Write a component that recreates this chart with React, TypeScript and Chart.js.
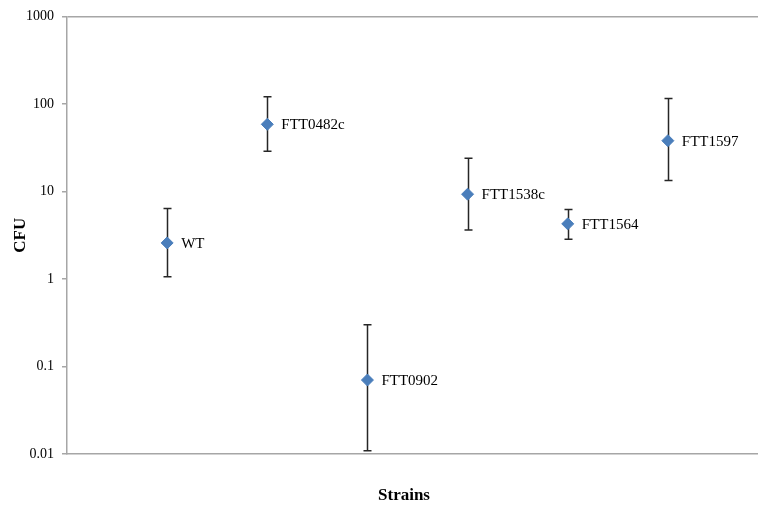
import React, { useEffect, useRef } from "react";
import { Chart, registerables } from "chart.js";

Chart.register(...registerables);

const strains = ["WT", "FTT0482c", "FTT0902", "FTT1538c", "FTT1564", "FTT1597"];
const positions = [1, 2, 3, 4, 5, 6];
const cfu = [2.58, 58.5, 0.07, 9.3, 4.26, 38];
const errHigh = [6.4, 121, 0.3, 23.9, 6.2, 115];
const errLow = [1.06, 28.8, 0.0109, 3.63, 2.85, 13.3];
const yTicks = [0.01, 0.1, 1, 10, 100, 1000];
const yTickLabels = ["0.01", "0.1", "1", "10", "100", "1000"];

const SERIF = "'Liberation Serif', 'Times New Roman', serif";
const AXIS_GRAY = "#a6a6a6";

const overlayPlugin = {
  id: "overlay",
  beforeDatasetsDraw(chart: any) {
    const { ctx, scales } = chart;
    const x = scales.x;
    const y = scales.y;
    ctx.save();
    ctx.strokeStyle = "#262626";
    ctx.lineWidth = 1.5;
    for (let i = 0; i < positions.length; i++) {
      const px = Math.round(x.getPixelForValue(positions[i])) + 0.5;
      const top = y.getPixelForValue(errHigh[i]);
      const bot = y.getPixelForValue(errLow[i]);
      ctx.beginPath();
      ctx.moveTo(px, top);
      ctx.lineTo(px, bot);
      ctx.moveTo(px - 4, top);
      ctx.lineTo(px + 4, top);
      ctx.moveTo(px - 4, bot);
      ctx.lineTo(px + 4, bot);
      ctx.stroke();
    }
    ctx.restore();
  },
  afterDatasetsDraw(chart: any) {
    const { ctx, scales, chartArea } = chart;
    const x = scales.x;
    const y = scales.y;
    ctx.save();
    ctx.fillStyle = "#000";
    ctx.font = `15px ${SERIF}`;
    ctx.textBaseline = "middle";
    ctx.textAlign = "left";
    for (let i = 0; i < positions.length; i++) {
      const px = x.getPixelForValue(positions[i]);
      const py = y.getPixelForValue(cfu[i]);
      ctx.fillText(strains[i], px + 14, py + 1);
    }
    // axis titles
    ctx.font = `bold 17px ${SERIF}`;
    ctx.textAlign = "center";
    ctx.fillText("Strains", 404, 496);
    ctx.translate(21, (chartArea.top + chartArea.bottom) / 2);
    ctx.rotate(-Math.PI / 2);
    ctx.fillText("CFU", 0, 0);
    ctx.restore();
  },
};

export default function App() {
  const ref = useRef<HTMLCanvasElement>(null);
  useEffect(() => {
    document.body.style.margin = "0";
    const canvas = ref.current!;
    const chart = new Chart(canvas, {
      type: "scatter",
      data: {
        datasets: [
          {
            data: positions.map((p, i) => ({ x: p, y: cfu[i] })),
            pointStyle: "rectRot",
            pointRadius: 6,
            pointBackgroundColor: "#4A7EBB",
            pointBorderColor: "#4A7EBB",
            pointBorderWidth: 1,
            showLine: false,
          },
        ],
      },
      options: {
        animation: false,
        responsive: false,
        devicePixelRatio: 1,
        layout: { autoPadding: false, padding: { top: 16, right: 0, left: 0, bottom: 0 } },
        plugins: { legend: { display: false }, tooltip: { enabled: false } },
        scales: {
          x: {
            type: "linear",
            min: 0,
            max: 6.9,
            ticks: { display: false },
            grid: { display: false, drawTicks: false },
            border: { display: true, color: AXIS_GRAY, width: 1.5 },
            afterFit: (axis: any) => {
              axis.height = 51;
            },
          },
          y: {
            type: "logarithmic",
            min: 0.01,
            max: 1000,
            afterBuildTicks: (axis: any) => {
              axis.ticks = yTicks.map((v) => ({ value: v }));
            },
            ticks: {
              callback: (v: any) => {
                const idx = yTicks.indexOf(Number(v));
                return idx >= 0 ? yTickLabels[idx] : "";
              },
              font: { family: SERIF, size: 14 },
              color: "#000",
              padding: 8,
            },
            grid: {
              color: (c: any) =>
                c.tick && c.tick.value === 1000 ? AXIS_GRAY : "rgba(0,0,0,0)",
              tickColor: AXIS_GRAY,
              tickLength: 5,
              lineWidth: 1.5,
            },
            border: { display: true, color: AXIS_GRAY, width: 1.5 },
            afterFit: (axis: any) => {
              axis.width = 67;
            },
          },
        },
      },
      plugins: [overlayPlugin],
    });
    return () => chart.destroy();
  }, []);
  return (
    <div style={{ width: 758, height: 505 }}>
      <canvas ref={ref} width={758} height={505} style={{ display: "block" }} />
    </div>
  );
}
